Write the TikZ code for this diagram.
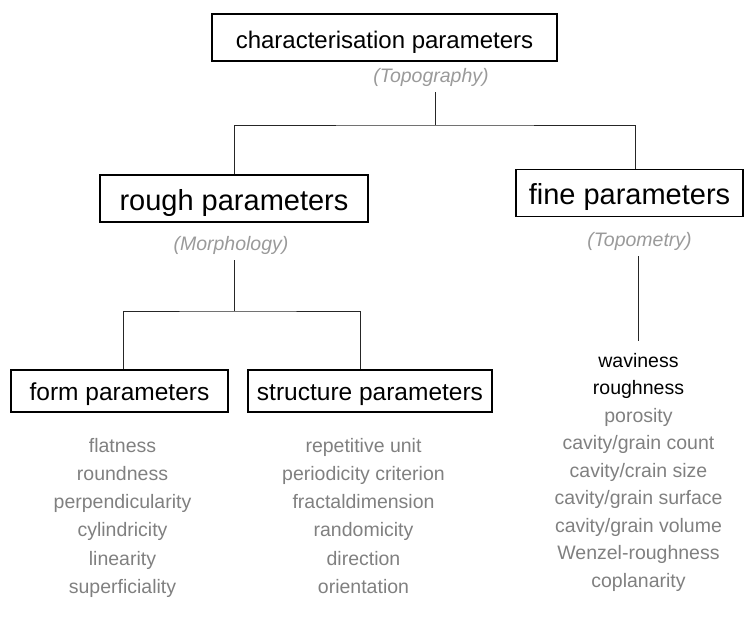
\documentclass[tikz,border=0pt]{standalone}
\usepackage{fontspec}
\setmainfont{Liberation Sans}
\usepackage{xcolor}
\usetikzlibrary{positioning}
\definecolor{itemgray}{HTML}{808080}
\definecolor{notegray}{HTML}{9A9A9A}

\begin{document}
\begin{tikzpicture}[
    x=1pt, y=-1pt,
    topbox/.style={
        draw=black,
        line width=1.5pt,
        inner sep=0pt,
        minimum width=345pt,
        minimum height=47pt,
        text height=21pt,
        text depth=0pt,
        font=\fontsize{24}{28}\selectfont
    },
    midbox/.style={
        draw=black,
        line width=1.5pt,
        inner sep=0pt,
        minimum height=47pt,
        text height=23pt,
        text depth=0pt,
        font=\fontsize{29}{34}\selectfont
    },
    lowbox/.style={
        draw=black,
        line width=1.5pt,
        inner sep=0pt,
        minimum height=42pt,
        text height=18pt,
        text depth=0pt,
        font=\fontsize{24.5}{29}\selectfont
    },
    note/.style={
        text=notegray,
        inner sep=1pt,
        outer sep=5pt,
        font=\fontsize{19.5}{23}\selectfont\itshape
    },
    items/.style={
        text=itemgray,
        align=center,
        inner sep=0pt,
        font=\fontsize{19.5}{28.2}\selectfont
    },
    link/.style={draw=black!85, line width=0.9pt}
]
\useasboundingbox (0,0) rectangle (745,621);

% top level
\node[topbox] (charac) at (384.5,37.5) {characterisation parameters};
\node[note, anchor=base] (topo) at (431,82) {(Topography)};

% second level
\node[midbox, minimum width=268pt] (rough) at (234,198.5) {rough parameters};
\node[note, anchor=base] (morph) at (231,250) {(Morphology)};
\node[midbox, minimum width=227pt] (fine) at (629.5,193) {fine parameters};
\node[note, anchor=base] (topom) at (639.5,246) {(Topometry)};

% third level
\node[lowbox, minimum width=217pt] (form) at (119.5,391) {form parameters};
\node[lowbox, minimum width=244pt] (struct) at (370,391) {structure parameters};

% parameter lists
\node[items, anchor=north] (formitems) at (122.5,438)
{flatness\\
roundness\\
perpendicularity\\
cylindricity\\
linearity\\
superficiality};

\node[items, anchor=north] (structitems) at (363.5,438)
{repetitive unit\\
periodicity criterion\\
fractaldimension\\
randomicity\\
direction\\
orientation};

\node[items, anchor=north, inner ysep=12pt,
      font=\fontsize{19.5}{27.5}\selectfont] (fineitems) at (638.5,341)
{\textcolor{black}{waviness}\\
\textcolor{black}{roughness}\\
porosity\\
cavity/grain count\\
cavity/crain size\\
cavity/grain surface\\
cavity/grain volume\\
Wenzel-roughness\\
coplanarity};

% connectors
\coordinate (joinA) at (435,125);
\coordinate (joinB) at (234,311);
\draw[link] (topo.south -| joinA) -- (joinA);
\draw[link] (rough.north) |- (joinA) -| ([xshift=5.5pt]fine.north);
\draw[link] (morph.south -| joinB) -- (joinB);
\draw[link] ([xshift=3.5pt]form.north) |- (joinB) -| ([xshift=-10pt]struct.north);
\draw[link] (topom.south -| fineitems.north) -- (fineitems.north);

\end{tikzpicture}
\end{document}
